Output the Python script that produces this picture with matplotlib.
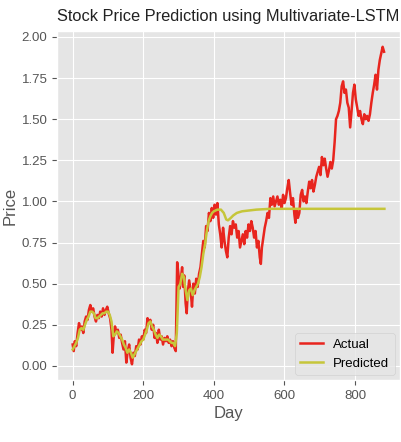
import matplotlib
matplotlib.use("Agg")
import matplotlib.pyplot as plt

# values (day, scaled price)
actual_days = [0, 3, 6, 10, 14, 18, 22, 26, 30, 34, 38, 42, 46, 50, 54, 58, 62, 66, 70, 74,
               78, 82, 86, 90, 94, 98, 102, 106, 110, 113, 116, 120, 124, 128, 132, 136, 140, 144, 148, 152,
               156, 160, 164, 168, 172, 176, 180, 184, 188, 192, 196, 200, 204, 208, 212, 216, 220, 224, 228, 232,
               236, 240, 244, 248, 252, 256, 260, 264, 268, 272, 276, 280, 284, 288, 292, 296, 300, 303, 306, 310,
               313, 316, 320, 323, 326, 330, 334, 338, 342, 346, 350, 354, 358, 362, 366, 370, 374, 378, 382, 386,
               390, 394, 398, 402, 406, 410, 414, 418, 422, 426, 430, 434, 438, 442, 446, 450, 454, 458, 462, 466,
               470, 474, 478, 482, 486, 490, 494, 498, 502, 506, 510, 514, 518, 522, 526, 530, 533, 536, 540, 544,
               548, 552, 556, 560, 564, 568, 572, 576, 580, 584, 588, 592, 596, 600, 604, 608, 612, 616, 620, 624,
               628, 631, 634, 638, 642, 646, 650, 654, 658, 662, 666, 670, 674, 678, 682, 686, 690, 694, 698, 702,
               706, 710, 714, 718, 722, 726, 730, 734, 738, 742, 746, 750, 754, 758, 762, 766, 770, 774, 778, 782,
               786, 790, 794, 798, 802, 806, 810, 814, 818, 822, 826, 830, 834, 838, 842, 846, 850, 854, 858, 862,
               866, 870, 874, 878, 882]
actual = [0.13, 0.09, 0.15, 0.12, 0.20, 0.26, 0.22, 0.24, 0.20, 0.27, 0.30, 0.28, 0.34, 0.37, 0.33, 0.35, 0.30, 0.27, 0.31, 0.29,
          0.33, 0.30, 0.35, 0.31, 0.34, 0.36, 0.32, 0.29, 0.22, 0.08, 0.17, 0.24, 0.20, 0.22, 0.17, 0.19, 0.14, 0.10, 0.15, 0.02,
          0.09, 0.13, 0.05, 0.01, 0.08, 0.06, 0.12, 0.10, 0.16, 0.13, 0.18, 0.16, 0.22, 0.20, 0.29, 0.26, 0.28, 0.22, 0.25, 0.17,
          0.20, 0.14, 0.22, 0.16, 0.18, 0.13, 0.17, 0.15, 0.18, 0.14, 0.16, 0.12, 0.15, 0.11, 0.09, 0.63, 0.55, 0.47, 0.52, 0.60,
          0.48, 0.55, 0.38, 0.32, 0.45, 0.52, 0.46, 0.36, 0.50, 0.44, 0.53, 0.48, 0.56, 0.60, 0.68, 0.76, 0.72, 0.85, 0.82, 0.93,
          0.88, 0.96, 0.90, 0.98, 0.92, 0.99, 0.86, 0.80, 0.72, 0.84, 0.76, 0.70, 0.66, 0.78, 0.85, 0.80, 0.88, 0.84, 0.86, 0.78,
          0.82, 0.72, 0.76, 0.80, 0.74, 0.82, 0.78, 0.86, 0.82, 0.88, 0.84, 0.78, 0.82, 0.72, 0.76, 0.66, 0.62, 0.72, 0.78, 0.84,
          0.88, 0.93, 0.90, 1.02, 0.98, 1.03, 0.97, 1.00, 1.03, 0.98, 1.01, 0.96, 1.04, 0.99, 1.02, 1.08, 1.13, 1.05, 0.98, 1.02,
          0.92, 0.87, 0.95, 0.90, 0.93, 1.04, 1.07, 1.00, 1.03, 0.99, 1.06, 1.12, 1.08, 1.13, 1.06, 1.10, 1.15, 1.18, 1.21, 1.16,
          1.27, 1.22, 1.26, 1.20, 1.15, 1.19, 1.24, 1.20, 1.25, 1.36, 1.50, 1.52, 1.55, 1.60, 1.70, 1.73, 1.66, 1.68, 1.60, 1.57,
          1.45, 1.55, 1.66, 1.71, 1.62, 1.57, 1.52, 1.55, 1.50, 1.47, 1.53, 1.50, 1.52, 1.49, 1.53, 1.60, 1.66, 1.71, 1.77, 1.68,
          1.80, 1.86, 1.90, 1.94, 1.91]

pred_days = [0, 5, 10, 15, 20, 25, 30, 35, 40, 45, 50, 55, 60, 65, 70, 75, 80, 85, 90, 95,
             100, 105, 110, 115, 120, 125, 130, 135, 140, 145, 150, 155, 160, 165, 170, 175, 180, 185, 190, 195,
             200, 205, 210, 215, 220, 225, 230, 235, 240, 245, 250, 255, 260, 265, 270, 275, 280, 285, 290, 295,
             300, 305, 310, 315, 320, 325, 330, 335, 340, 345, 350, 355, 360, 365, 370, 375, 380, 385, 390, 395,
             400, 410, 420, 428, 435, 440, 448, 455, 465, 480, 500, 520, 560, 600, 700, 800, 883]
predicted = [0.10, 0.12, 0.14, 0.17, 0.22, 0.23, 0.22, 0.25, 0.28, 0.30, 0.33, 0.33, 0.32, 0.29, 0.29, 0.30, 0.31, 0.32, 0.32, 0.33,
             0.33, 0.31, 0.27, 0.18, 0.19, 0.21, 0.20, 0.18, 0.16, 0.13, 0.11, 0.08, 0.10, 0.08, 0.05, 0.07, 0.09, 0.11, 0.13, 0.15,
             0.16, 0.19, 0.22, 0.26, 0.27, 0.24, 0.22, 0.19, 0.17, 0.19, 0.18, 0.16, 0.16, 0.16, 0.16, 0.15, 0.14, 0.14, 0.12, 0.20,
             0.48, 0.50, 0.56, 0.54, 0.46, 0.40, 0.46, 0.47, 0.43, 0.46, 0.48, 0.50, 0.54, 0.60, 0.68, 0.74, 0.82, 0.88, 0.91, 0.93,
             0.94, 0.95, 0.95, 0.93, 0.89, 0.885, 0.90, 0.915, 0.93, 0.94, 0.945, 0.95, 0.955, 0.955, 0.955, 0.955, 0.955]

plt.style.use('ggplot')
plt.rcParams['font.family'] = ['Liberation Sans', 'DejaVu Sans']

fig = plt.figure(figsize=(4.02, 4.42), dpi=100)
fig.subplots_adjust(left=0.142, right=0.995, bottom=0.14, top=0.93)
ax = fig.add_subplot(111)

ax.plot(actual_days, actual, color='#e8251e', linewidth=1.8, label='Actual')
ax.plot(pred_days, predicted, color='#c6c63a', linewidth=1.8, label='Predicted')

ax.set_title("Stock Price Prediction using Multivariate-LSTM", fontsize=11.8, color='#222222', pad=7)
ax.set_xlabel("Day", fontsize=12, color='#555555', labelpad=3)
ax.set_ylabel("Price", fontsize=12, color='#555555', labelpad=3)
ax.set_yticks([0.0, 0.25, 0.5, 0.75, 1.0, 1.25, 1.5, 1.75, 2.0])
ax.set_xticks([0, 200, 400, 600, 800])
ax.tick_params(labelsize=9.5, colors='#555555')
ax.legend(loc='lower right', fontsize=9.5, handlelength=1.7, borderaxespad=0.4)

fig.savefig("out.png", dpi=100)
